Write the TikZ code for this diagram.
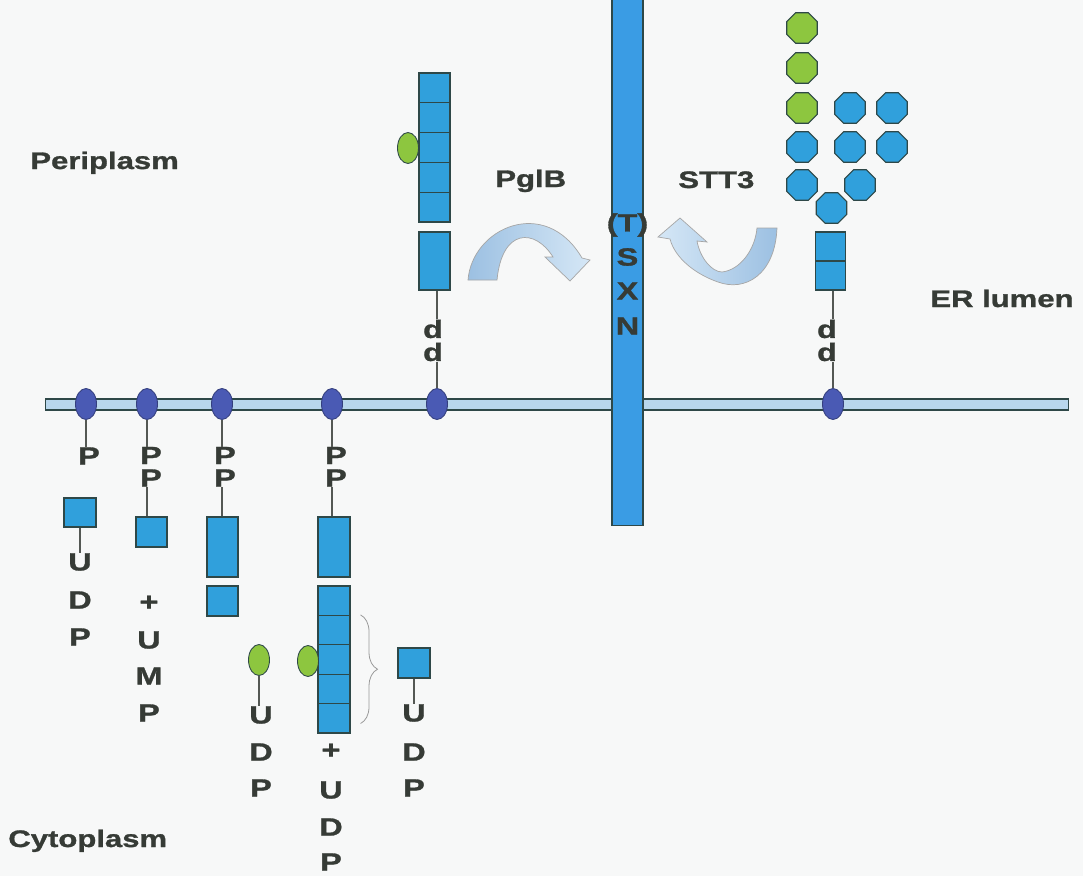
\documentclass[tikz,border=0pt]{standalone}
\usepackage{fontspec}
\setmainfont{Liberation Sans}
\newfontfamily\figfont[FakeStretch=1.3, FakeBold=1.2]{Liberation Sans}
\usetikzlibrary{shapes.geometric,decorations.pathreplacing}

\definecolor{bgpaper}{HTML}{F7F8F8}
\definecolor{ink}{HTML}{363B36}
\definecolor{edge}{HTML}{2E4848}
\definecolor{sugarblue}{HTML}{30A0DC}
\definecolor{sugargreen}{HTML}{8DC63F}
\definecolor{lipidblue}{HTML}{4A5AB4}
\definecolor{membblue}{HTML}{B8D6EC}
\definecolor{tmblue}{HTML}{3A9CE4}
\definecolor{arrowdark}{HTML}{9CC0E2}
\definecolor{arrowlight}{HTML}{D5E7F6}

\begin{document}
\begin{tikzpicture}[x=0.02cm, y=-0.02cm,
  sugar/.style={rectangle, draw=edge, fill=sugarblue, line width=0.6pt, inner sep=0pt, minimum width=0.62cm, minimum height=0.6cm},
  lipid/.style={ellipse, draw=lipidblue!70!black, fill=lipidblue, line width=0.5pt, inner sep=0pt, minimum width=0.42cm, minimum height=0.62cm},
  bac/.style={ellipse, draw=edge, fill=sugargreen, line width=0.5pt, inner sep=0pt, minimum width=0.42cm, minimum height=0.62cm},
  octo/.style={regular polygon, regular polygon sides=8, draw=edge, line width=0.6pt, inner sep=0pt, minimum size=0.66cm},
  lett/.style={font={\figfont\bfseries\fontsize{14.2}{16}\selectfont}, text=ink, inner sep=0pt},
  lbl/.style={font={\figfont\bfseries\fontsize{13.6}{16}\selectfont}, text=ink, inner sep=0pt},
  link/.style={draw=ink!85, line width=0.6pt},
  turn/.style={draw=gray!80, line width=0.45pt}]
  \fill[bgpaper] (0,0) rectangle (1083,876);
  \useasboundingbox (0,0) rectangle (1083,876);

  \node[rectangle, draw=edge, fill=membblue, line width=0.6pt, inner sep=0pt, minimum width=20.48cm, minimum height=0.22cm] (memb) at (557,404.5) {};
  \node[rectangle, draw=edge, fill=tmblue, line width=0.6pt, inner sep=0pt, minimum width=0.62cm, minimum height=10.6cm] (tm) at (627.5,261) {};
  \node[lett] (tt) at (627.5,225) {(T)};
  \node[lett] (ts) at (627.5,257) {S};
  \node[lett] (tx) at (627.5,291) {X};
  \node[lett] (tn) at (627.5,326) {N};

  \node[lbl, anchor=base west] (peri) at (30,169) {Periplasm};
  \node[lbl, anchor=base west] (cyto) at (8,847) {Cytoplasm};
  \node[lbl, anchor=base west] (er) at (930,307) {ER lumen};
  \node[lbl, anchor=base west] (pglb) at (495,187) {PglB};
  \node[lbl, anchor=base west] (stt) at (678,188) {STT3};

  \foreach \x [count=\k] in {86,147,222,332,437,833}
    \node[lipid] (l\k) at (\x,404) {};

  % UDP-sugar
  \node[lett] (c1p) at (89,456) {P};
  \node[sugar, minimum width=0.64cm, minimum height=0.58cm] (s1) at (80,512.5) {};
  \foreach \t/\y [count=\k] in {U/562,D/600,P/637}
    \node[lett] (c1\k) at (80,\y) {\t};
  \draw[link] (l1) -- (l1 |- c1p.north);
  \draw[link] (s1) -- (s1 |- c11.north);

  % PP-sugar + UMP
  \node[lett] (c2p1) at (151,455.5) {P};
  \node[lett] (c2p2) at (151,478) {P};
  \node[sugar] (s2) at (151.5,532) {};
  \foreach \t/\y [count=\k] in {+/603,U/640,M/676,P/713}
    \node[lett] (c2\k) at (149,\y) {\t};
  \draw[link] (l2) -- (l2 |- c2p1.north);
  \draw[link] (c2p2.south -| l2) -- (s2.north -| l2);

  % PP-disaccharide
  \node[lett] (c3p1) at (225,455.5) {P};
  \node[lett] (c3p2) at (225,478) {P};
  \node[sugar, minimum height=1.2cm] (r3) at (222.5,547) {};
  \node[sugar] (s3) at (222.5,601) {};
  \draw[link] (l3) -- (l3 |- c3p1.north);
  \draw[link] (c3p2.south -| l3) -- (r3.north -| l3);

  % PP-heptasaccharide
  \node[lett] (c4p1) at (336,455.5) {P};
  \node[lett] (c4p2) at (336,478) {P};
  \node[sugar, minimum width=0.64cm, minimum height=1.2cm] (r4) at (334,547) {};
  \foreach \k in {1,...,5}
    \node[sugar, minimum width=0.64cm, minimum height=0.588cm] (c4s\k) at (334,571.3+\k*29.4) {};
  \node[bac] (b4) at (308,661) {};
  \draw[link] (l4) -- (l4 |- c4p1.north);
  \draw[link] (c4p2.south -| l4) -- (r4.north -| l4);
  \draw[turn, decorate, decoration={brace, amplitude=0.34cm}] ([xshift=0.2cm]c4s2.north east) -- ([xshift=0.2cm, yshift=0.2cm]c4s5.south east);
  \foreach \t/\y [count=\k] in {+/751,U/790,D/827,P/862}
    \node[lett] (c4\k) at (331,\y) {\t};

  % UDP-bacillosamine and UDP-GalNAc
  \node[bac] (b5) at (259,660) {};
  \foreach \t/\y [count=\k] in {U/715,D/752,P/788}
    \node[lett] (c5\k) at (261,\y) {\t};
  \draw[link] (b5) -- (b5 |- c51.north);
  \node[sugar, minimum width=0.64cm] (s6) at (414,663) {};
  \foreach \t/\y [count=\k] in {U/713,D/752,P/788}
    \node[lett] (c6\k) at (414,\y) {\t};
  \draw[link] (s6) -- (s6 |- c61.north);

  % flipped glycan (bacteria)
  \node[lett] (d5a) at (433,329) {d};
  \node[lett] (d5b) at (433,352) {d};
  \node[sugar, minimum width=0.62cm, minimum height=1.16cm] (r5) at (434.5,261) {};
  \foreach \k in {1,...,5}
    \node[sugar, minimum width=0.62cm, minimum height=0.596cm] (g5s\k) at (434.5,58.1+\k*29.8) {};
  \node[bac] (b7) at (408,148) {};
  \draw[link] (l5) -- (l5 |- d5b.south);
  \draw[link] (d5a.north -| l5) -- (r5.south -| l5);

  % ER glycan
  \node[lett] (d6a) at (827,329) {d};
  \node[lett] (d6b) at (827,352) {d};
  \node[sugar, minimum width=0.6cm, minimum height=0.58cm] (e1) at (830.5,275.5) {};
  \node[sugar, minimum width=0.6cm, minimum height=0.58cm] (e2) at (830.5,246.5) {};
  \draw[link] (l6) -- (l6 |- d6b.south);
  \draw[link] (d6a.north -| l6) -- (e1.south -| l6);
  \foreach \x/\y [count=\k] in {802/28,802/68,802/108}
    \node[octo, fill=sugargreen] (glc\k) at (\x,\y) {};
  \foreach \x/\y [count=\k] in {850/108,892/108,802/147,850/147,892/147,802/185,860/185,831.5/208}
    \node[octo, fill=sugarblue] (man\k) at (\x,\y) {};

  % transfer arrows
  \shade[left color=arrowdark, right color=arrowlight, draw=gray!70, line width=0.4pt]
    (468,280) .. controls (472,228) and (545,195) .. (582,258) -- (590,260) -- (570,281) -- (545,257) -- (553,257)
    .. controls (535,228) and (502,228) .. (497,280) -- cycle;
  \shade[left color=arrowlight, right color=arrowdark, draw=gray!70, line width=0.4pt]
    (777,228) .. controls (775,275) and (745,292) .. (718,282) .. controls (695,274) and (675,258) .. (670,239)
    -- (658,237) -- (680,218) -- (707,242) -- (697,241) .. controls (700,258) and (712,272) .. (722,272)
    .. controls (740,270) and (755,250) .. (757,228) -- cycle;
\end{tikzpicture}
\end{document}
